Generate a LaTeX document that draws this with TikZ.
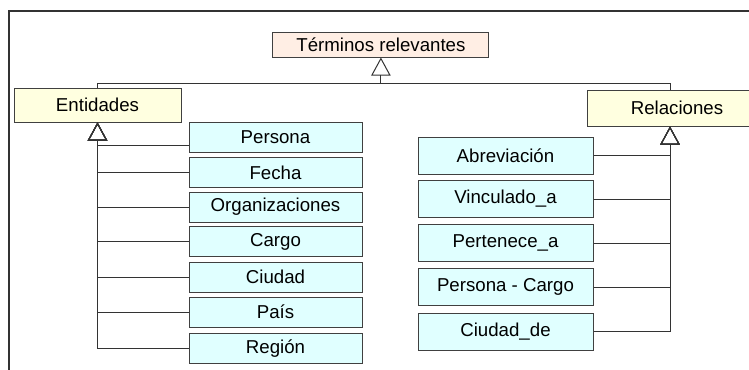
\documentclass[tikz,border=0pt]{standalone}
\usepackage{fontspec}
\setmainfont{Liberation Sans}
\usetikzlibrary{arrows.meta}
\definecolor{raizfill}{HTML}{FFEEE4}
\definecolor{clasefill}{HTML}{FFFFE0}
\definecolor{hojafill}{HTML}{E0FFFF}
\begin{document}
\begin{tikzpicture}[x=0.75pt,y=-0.75pt]
        \tikzstyle{caja}=[rectangle,draw=black!75,line width=0.75pt,inner sep=0pt,font=\fontsize{14}{16}\selectfont]
        \tikzstyle{raiz}=[caja,fill=raizfill,minimum width=162pt,minimum height=18.75pt]
        \tikzstyle{clase}=[caja,fill=clasefill,minimum height=25.5pt]
        \tikzstyle{hoja}=[caja,fill=hojafill,minimum height=22.5pt]
        \tikzstyle{edge}=[draw=black!80,line width=0.75pt,-{Triangle[open,length=13.5pt,width=14.5pt]}]
        \clip (0,0) rectangle (749,369);
        \useasboundingbox (0,0) rectangle (749,369);
        % marco
        \draw[black!80,line width=1.1pt] (9,380) -- (9,11) -- (760,11);
        \begin{scope}
          \node [raiz] (terminos) at (380.9,44.5) {Términos relevantes};
          \node [clase,minimum width=125.25pt] (entidades) at (97.5,105) {Entidades};
          \node [clase,minimum width=135pt,minimum height=27pt] (relaciones) at (677,108) {Relaciones};
          \coordinate (bus) at (380.9,83);
          \coordinate (relnorte) at ([xshift=-5.25pt]relaciones.north);
          \coordinate (relsur) at ([xshift=-5.25pt]relaciones.south);
          % entidades
          \node [hoja,minimum width=129.75pt] (persona) at (275.5,137) {Persona};
          \node [hoja,minimum width=129.75pt] (fecha) at (275.5,172.5) {Fecha};
          \node [hoja,minimum width=129.75pt] (organizaciones) at (275.5,207) {Organizaciones};
          \node [hoja,minimum width=129.75pt] (cargo) at (275.5,241.5) {Cargo};
          \node [hoja,minimum width=129.75pt] (ciudad) at (275.5,277) {Ciudad};
          \node [hoja,minimum width=129.75pt] (pais) at (275.5,312) {País};
          \node [hoja,minimum width=129.75pt] (region) at (275.5,348.5) {Región};
          % relaciones
          \node [hoja,minimum width=131.25pt,minimum height=27.75pt] (abreviacion) at (505.5,155.5) {Abreviación};
          \node [hoja,minimum width=131.25pt,minimum height=27.75pt] (vinculado) at (505.5,199) {Vinculado\_a};
          \node [hoja,minimum width=131.25pt,minimum height=27.75pt] (pertenece) at (505.5,243) {Pertenece\_a};
          \node [hoja,minimum width=131.25pt,minimum height=27.75pt] (personacargo) at (505.5,287) {Persona - Cargo};
          \node [hoja,minimum width=131.25pt,minimum height=27.75pt] (ciudadde) at (505.5,331.5) {Ciudad\_de};
          \draw[draw=black!80,line width=0.75pt] (entidades.north) |- (bus);
          \draw[draw=black!80,line width=0.75pt] (relnorte) |- (bus);
          \path[edge] (bus) -- (terminos.south);
          \path[edge] ([yshift=-6pt]persona.west) -| (entidades.south);
          \path[edge] (fecha.west) -| (entidades.south);
          \path[edge] (organizaciones.west) -| (entidades.south);
          \path[edge] (cargo.west) -| (entidades.south);
          \path[edge] (ciudad.west) -| (entidades.south);
          \path[edge] (pais.west) -| (entidades.south);
          \path[edge] (region.west) -| (entidades.south);
          \path[edge] (abreviacion.east) -| (relsur);
          \path[edge] (vinculado.east) -| (relsur);
          \path[edge] (pertenece.east) -| (relsur);
          \path[edge] (personacargo.east) -| (relsur);
          \path[edge] (ciudadde.east) -| (relsur);
        \end{scope}
\end{tikzpicture}
\end{document}
